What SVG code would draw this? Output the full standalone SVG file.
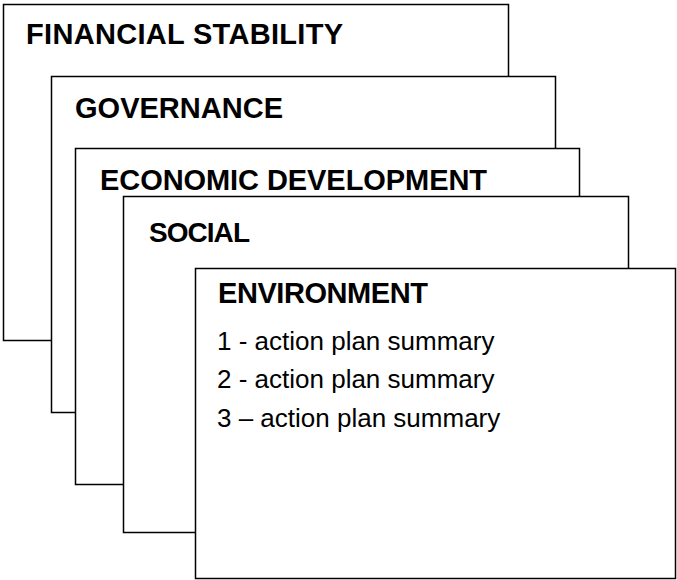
<svg xmlns="http://www.w3.org/2000/svg" width="677" height="580" viewBox="0 0 677 580">
<style>
.card{fill:#fff;stroke:#000;stroke-width:1.5}
.h{font-family:"Liberation Sans",Arial,sans-serif;font-weight:bold;font-size:29px;fill:#000}
.b{font-family:"Liberation Sans",Arial,sans-serif;font-size:26px;fill:#000}
</style>
<rect width="677" height="580" fill="#fff"/>
<g id="financial-stability">
<rect class="card" x="3.5" y="4.5" width="505" height="336"/>
<text class="h" x="26" y="44" textLength="317" lengthAdjust="spacing">FINANCIAL STABILITY</text>
</g>
<g id="governance">
<rect class="card" x="51.5" y="76.5" width="504" height="336"/>
<text class="h" x="75" y="118" textLength="208" lengthAdjust="spacing">GOVERNANCE</text>
</g>
<g id="economic-development">
<rect class="card" x="75.5" y="148.5" width="504" height="336"/>
<text class="h" x="100" y="190" textLength="387" lengthAdjust="spacing">ECONOMIC DEVELOPMENT</text>
</g>
<g id="social">
<rect class="card" x="123.5" y="196.5" width="505" height="336"/>
<text class="h" x="149" y="242" style="font-size:28px" textLength="101" lengthAdjust="spacing">SOCIAL</text>
</g>
<g id="environment">
<rect class="card" x="195.5" y="268.5" width="480" height="310"/>
<text class="h" x="218" y="303" textLength="210" lengthAdjust="spacing">ENVIRONMENT</text>
<text class="b" x="217" y="350">1 - action plan summary</text>
<text class="b" x="217" y="388">2 - action plan summary</text>
<text class="b" x="217" y="427">3 – action plan summary</text>
</g>
<g id="connectors"/>
</svg>
